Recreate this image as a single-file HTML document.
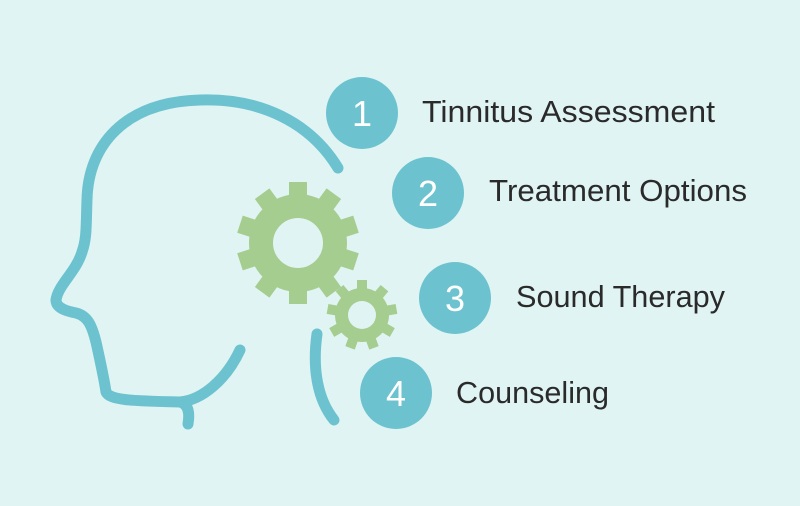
<!DOCTYPE html>
<html><head><meta charset="utf-8"><style>
html,body{margin:0;padding:0;background:#e0f4f3;}
svg{display:block}
text{font-family:"Liberation Sans",sans-serif;}
</style></head><body>
<svg width="800" height="506" viewBox="0 0 800 506" xmlns="http://www.w3.org/2000/svg">
<rect width="800" height="506" fill="#e0f4f3"/>
<g fill="none" stroke="#6cc3cf" stroke-width="11" stroke-linecap="round" stroke-linejoin="round">
<path d="M338 168 C310 122 260 98 200 100 C125 102 88 145 87 200 C86 225 87 238 82 252 C76 272 58 285 56 300 C56 308 66 311 76 313 C88 316 92 326 96 342 C100 360 104 378 106 392 C110 400 130 401 180 402 C188 404 190 412 188 424"/>
<path d="M180 402 C202 400 226 380 240 350"/>
<path d="M317 334 C312 370 318 400 334 420"/>
</g>
<g fill="#a5cd8f">
<g transform="translate(298,243)">
<g id="t1">
<rect x="-9" y="-61" width="18" height="20"/>
</g>
<use href="#t1" transform="rotate(36)"/><use href="#t1" transform="rotate(72)"/><use href="#t1" transform="rotate(108)"/><use href="#t1" transform="rotate(144)"/><use href="#t1" transform="rotate(180)"/><use href="#t1" transform="rotate(216)"/><use href="#t1" transform="rotate(252)"/><use href="#t1" transform="rotate(288)"/><use href="#t1" transform="rotate(324)"/>
<circle r="49"/>
<circle r="25" fill="#e0f4f3"/>
</g>
<g transform="translate(362,315)">
<g id="t2"><rect x="-5" y="-35" width="10" height="12"/></g>
<use href="#t2" transform="rotate(40)"/><use href="#t2" transform="rotate(80)"/><use href="#t2" transform="rotate(120)"/><use href="#t2" transform="rotate(160)"/><use href="#t2" transform="rotate(200)"/><use href="#t2" transform="rotate(240)"/><use href="#t2" transform="rotate(280)"/><use href="#t2" transform="rotate(320)"/>
<circle r="27"/>
<circle r="14" fill="#e0f4f3"/>
</g>
</g>
<g fill="#6cc3cf">
<circle cx="362" cy="113" r="36"/>
<circle cx="428" cy="193" r="36"/>
<circle cx="455" cy="298" r="36"/>
<circle cx="396" cy="393" r="36"/>
</g>
<g fill="#fff" font-size="36" text-anchor="middle">
<text x="362" y="126">1</text>
<text x="428" y="206">2</text>
<text x="455" y="311">3</text>
<text x="396" y="406">4</text>
</g>
<g fill="#2a2a2a" font-size="31">
<text x="422" y="122" textLength="293" lengthAdjust="spacingAndGlyphs">Tinnitus Assessment</text>
<text x="489" y="201" textLength="258" lengthAdjust="spacingAndGlyphs">Treatment Options</text>
<text x="516" y="307" textLength="209" lengthAdjust="spacingAndGlyphs">Sound Therapy</text>
<text x="456" y="403" textLength="153" lengthAdjust="spacingAndGlyphs">Counseling</text>
</g>
</svg>
</body></html>
